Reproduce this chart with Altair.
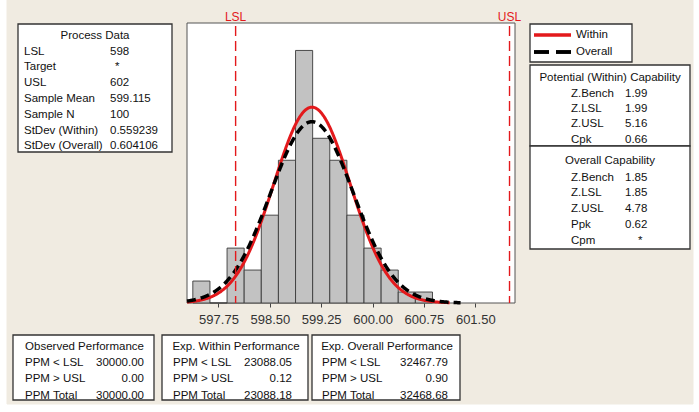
import altair as alt
import numpy as np
import pandas as pd

# ---- histogram of the 100 measurements (bin midpoints, bin width 0.25) ----
bin_mid = [597.50, 597.75, 598.00, 598.25, 598.50, 598.75, 599.00,
           599.25, 599.50, 599.75, 600.00, 600.25, 600.50, 600.75]
counts = [2, 0, 5, 3, 8, 13, 23, 15, 13, 8, 5, 3, 1, 1]
BIN_W = 0.25

# ---- process data ----
LSL, USL = 598.0, 602.0
sample_mean = 599.115
sample_n = 100
sd_within = 0.559239
sd_overall = 0.604106

process_labels = ["LSL", "Target", "USL", "Sample Mean", "Sample N",
                  "StDev (Within)", "StDev (Overall)"]
process_values = ["598", "*", "602", "599.115", "100", "0.559239", "0.604106"]

within_labels = ["Z.Bench", "Z.LSL", "Z.USL", "Cpk"]
within_values = ["1.99", "1.99", "5.16", "0.66"]
overall_labels = ["Z.Bench", "Z.LSL", "Z.USL", "Ppk", "Cpm"]
overall_values = ["1.85", "1.85", "4.78", "0.62", "*"]

perf_rows = ["PPM < LSL", "PPM > USL", "PPM Total"]
observed = ["30000.00", "0.00", "30000.00"]
exp_within = ["23088.05", "0.12", "23088.18"]
exp_overall = ["32467.79", "0.90", "32468.68"]

x_ticks = [597.75, 598.50, 599.25, 600.00, 600.75, 601.50]
x_domain = [597.29, 602.08]
y_max = 25.5

# ---- page layout (pixels) ----
PAGE_W, PAGE_H = 699, 412
PL, PT, PW, PH = 187, 23, 328, 280
FONT = "Liberation Sans"
FS = 11.5
TXT = "#111111"
BOX = "#333333"
RED = "#e3191c"


def px(x):
    return x - PL


def py(y):
    return y - PT


# ---- tables built from the arrays ----
hist = pd.DataFrame({
    "lo": [m - BIN_W / 2 for m in bin_mid],
    "hi": [m + BIN_W / 2 for m in bin_mid],
    "count": counts,
    "zero": [0] * len(counts),
})


def normal_curve(sd, upper):
    xs = np.arange(x_domain[0], upper, 0.005)
    ys = sample_n * BIN_W * np.exp(-0.5 * ((xs - sample_mean) / sd) ** 2) / (sd * np.sqrt(2 * np.pi))
    return pd.DataFrame({"x": xs, "y": ys})


within_df = normal_curve(sd_within, sample_mean + 3.6 * sd_within)
overall_df = normal_curve(sd_overall, sample_mean + 3.6 * sd_overall)
spec_df = pd.DataFrame({"x": [LSL, USL], "name": ["LSL", "USL"]})

xscale = alt.Scale(domain=x_domain, nice=False, zero=False)
yscale = alt.Scale(domain=[0, y_max], nice=False, zero=True)

# ---- panels: background, plot frame, text boxes ----
boxes = pd.DataFrame([
    # page background
    dict(x=px(7), x2=px(693), y=py(0), y2=py(404), fill="#f0ebe1", stroke="#f0ebe1"),
    # plot area
    dict(x=0, x2=PW, y=0, y2=PH, fill="white", stroke="#555555"),
])
panel_boxes = pd.DataFrame([
    dict(x=px(18), x2=px(172), y=py(24), y2=py(152)),    # process data
    dict(x=px(530), x2=px(632), y=py(24), y2=py(62)),    # legend
    dict(x=px(530), x2=px(690), y=py(65), y2=py(146)),   # potential capability
    dict(x=px(530), x2=px(690), y=py(146), y2=py(249)),  # overall capability
    dict(x=px(13), x2=px(154), y=py(335), y2=py(400)),   # observed
    dict(x=px(162), x2=px(308), y=py(335), y2=py(400)),  # expected within
    dict(x=px(312), x2=px(460), y=py(335), y2=py(400)),  # expected overall
])

left_txt, right_txt, center_txt = [], [], []

# process data
center_txt.append(("Process Data", px(95), py(36)))
for i, (lab, val) in enumerate(zip(process_labels, process_values)):
    y = 51.5 + 15.8 * i
    left_txt.append((lab, px(24), py(y)))
    left_txt.append((val, px(110 if val != "*" else 115), py(y)))

# legend text
left_txt.append(("Within", px(576), py(35)))
left_txt.append(("Overall", px(576), py(52)))

# potential (within) capability
center_txt.append(("Potential (Within) Capability", px(610), py(78)))
for i, (lab, val) in enumerate(zip(within_labels, within_values)):
    y = 94 + 15.2 * i
    left_txt.append((lab, px(571), py(y)))
    left_txt.append((val, px(625), py(y)))

# overall capability
center_txt.append(("Overall Capability", px(610), py(160.5)))
for i, (lab, val) in enumerate(zip(overall_labels, overall_values)):
    y = 177.5 + 15.9 * i
    left_txt.append((lab, px(571), py(y)))
    left_txt.append((val, px(625 if val != "*" else 638), py(y)))

# performance boxes
perf = [("Observed Performance", observed, 13, 154, 25, 144),
        ("Exp. Within Performance", exp_within, 162, 308, 173, 292),
        ("Exp. Overall Performance", exp_overall, 312, 460, 322, 448)]
for title, vals, bx0, bx1, lx, rx in perf:
    center_txt.append((title, px((bx0 + bx1) / 2 + 1), py(346.5)))
    for i, (lab, val) in enumerate(zip(perf_rows, vals)):
        y = 363 + 16.3 * i
        left_txt.append((lab, px(lx), py(y)))
        right_txt.append((val, px(rx), py(y)))


def txt_df(rows):
    return pd.DataFrame(rows, columns=["text", "x", "y"])


def text_layer(rows, align):
    return alt.Chart(txt_df(rows)).mark_text(
        align=align, baseline="middle", font=FONT, fontSize=FS, color=TXT
    ).encode(
        x=alt.X("x:Q", scale=None),
        y=alt.Y("y:Q", scale=None),
        text="text:N",
    )


background = alt.Chart(boxes).mark_rect(strokeWidth=1).encode(
    x=alt.X("x:Q", scale=None), x2="x2:Q",
    y=alt.Y("y:Q", scale=None), y2="y2:Q",
    fill=alt.Fill("fill:N", scale=None),
    stroke=alt.Stroke("stroke:N", scale=None),
)

panels = alt.Chart(panel_boxes).mark_rect(fill="white", stroke=BOX, strokeWidth=1.3).encode(
    x=alt.X("x:Q", scale=None), x2="x2:Q",
    y=alt.Y("y:Q", scale=None), y2="y2:Q",
)

bars = alt.Chart(hist).mark_rect(fill="#c2c2c2", stroke="#3a3a3a", strokeWidth=0.9).encode(
    x=alt.X("lo:Q", scale=xscale,
            axis=alt.Axis(values=x_ticks, format=".2f", grid=False, domain=False,
                          tickSize=4, tickColor="#444444", labelColor="#333333",
                          labelFontSize=13, labelFont=FONT, labelPadding=6,
                          labelFlush=False, title=None, zindex=2)),
    x2="hi:Q",
    y=alt.Y("count:Q", scale=yscale, axis=None),
    y2="zero:Q",
)

within_line = alt.Chart(within_df).mark_line(color=RED, strokeWidth=3).encode(
    x=alt.X("x:Q", scale=xscale), y=alt.Y("y:Q", scale=yscale)
)
overall_line = alt.Chart(overall_df).mark_line(
    color="black", strokeWidth=3.5, strokeDash=[9, 5]
).encode(x=alt.X("x:Q", scale=xscale), y=alt.Y("y:Q", scale=yscale))

spec_lines = alt.Chart(spec_df).mark_rule(
    color=RED, strokeWidth=1.4, strokeDash=[10, 5]
).encode(x=alt.X("x:Q", scale=xscale), y=alt.value(3), y2=alt.value(PH))

spec_labels = alt.Chart(spec_df).mark_text(
    color=RED, font=FONT, fontSize=12, baseline="middle", align="center"
).encode(x=alt.X("x:Q", scale=xscale), y=alt.value(py(17)), text="name:N")

legend_red = alt.Chart(spec_df).mark_rule(color=RED, strokeWidth=3).encode(
    x=alt.value(px(534)), x2=alt.value(px(571)), y=alt.value(py(35))
)
legend_black = alt.Chart(spec_df).mark_rule(
    color="black", strokeWidth=3.5, strokeDash=[15, 7]
).encode(x=alt.value(px(534)), x2=alt.value(px(571)), y=alt.value(py(52)))

chart = alt.layer(
    background, panels, bars, within_line, overall_line, spec_lines, spec_labels,
    legend_red, legend_black,
    text_layer(left_txt, "left"), text_layer(right_txt, "right"),
    text_layer(center_txt, "center"),
).properties(
    width=PW, height=PH,
    autosize=alt.AutoSizeParams(type="none"),
    padding={"left": PL, "top": PT, "right": PAGE_W - PL - PW, "bottom": PAGE_H - PT - PH},
).configure(background="white").configure_view(stroke=None)

chart.save("out.html", embed_options={"renderer": "svg", "actions": False})
